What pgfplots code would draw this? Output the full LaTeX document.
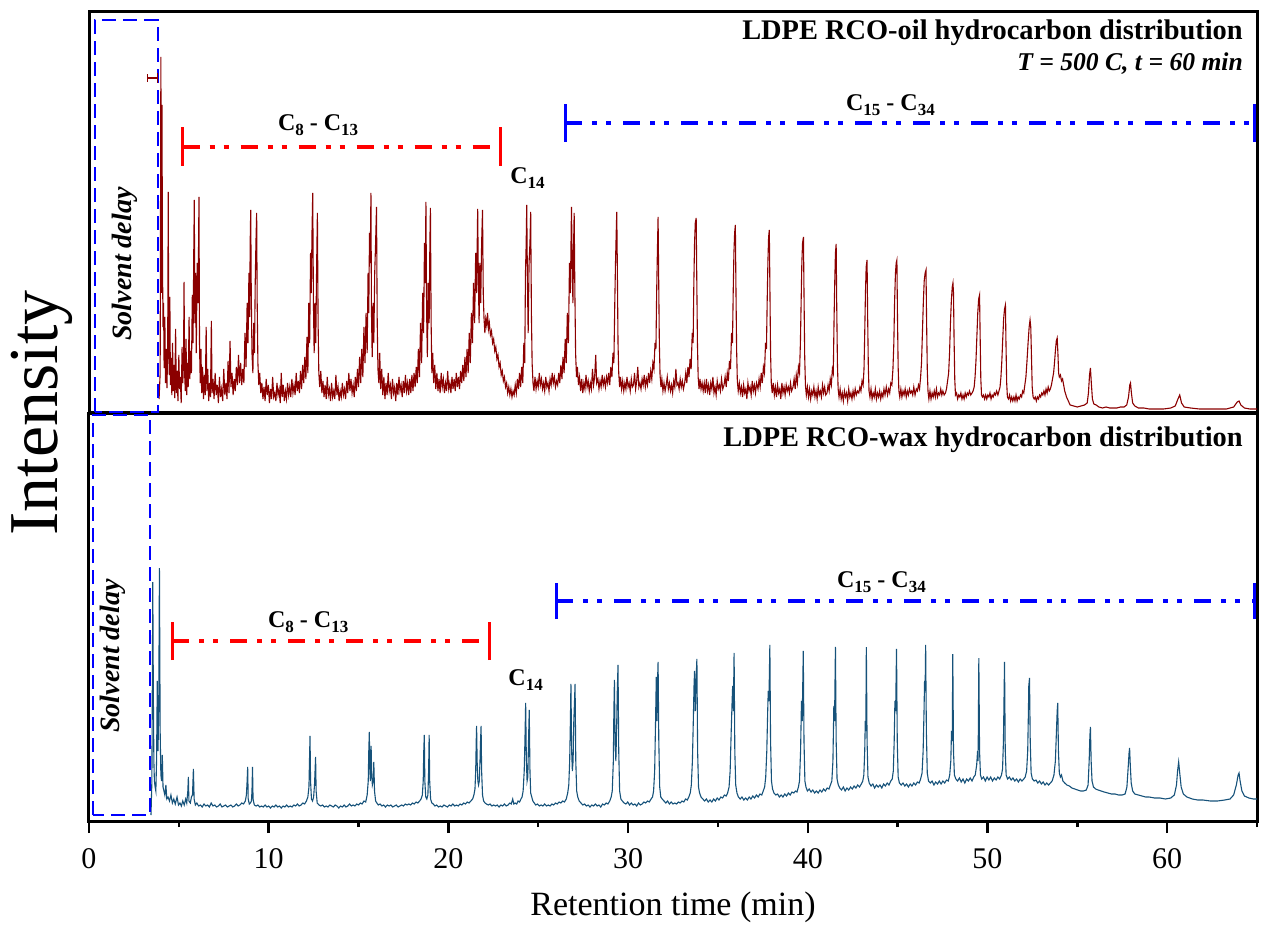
\documentclass[border=0pt]{standalone}
\usepackage{pgfplots}
\pgfplotsset{compat=1.18}
\usepackage{fontspec}
\setmainfont{Liberation Serif}
\definecolor{oilred}{RGB}{139,0,0}
\definecolor{waxblue}{RGB}{22,82,122}
\definecolor{brkred}{RGB}{255,0,0}
\definecolor{brkblue}{RGB}{0,0,255}
\newcommand{\sbs}[1]{\raisebox{-0.45ex}{\fontsize{8.5}{8.5}\selectfont #1}}

\pgfplotsset{
  chrom/.style={
    width=584pt, scale only axis,
    xmin=0, xmax=65, ymin=0,
    ytick=\empty,
    axis line style={line width=1.5pt},
    clip=false,
  },
}
\tikzset{
  crange/.style={line width=2pt, dash pattern=on 8.5pt off 5pt on 2.5pt off 4.5pt on 2.5pt off 6pt},
  ccap/.style={line width=1.5pt},
  solv/.style={brkblue, line width=0.9pt, dash pattern=on 7pt off 3.5pt},
  clab/.style={font=\bfseries\fontsize{12}{12}\selectfont},
}

\begin{document}
\begin{tikzpicture}

% ---------- lower panel: RCO-wax ----------
\begin{axis}[
    chrom,
    height=204pt, ymax=408,
    xtick={0,10,...,60},
    minor xtick={5,15,...,65},
    xtick pos=left,
    tick align=outside,
    major tick length=6pt,
    minor tick length=3pt,
    every tick/.style={black, line width=1.2pt},
    xticklabel style={font=\fontsize{15}{15}\selectfont, yshift=-4pt},
    /pgf/number format/assume math mode=true,
]
\addplot[waxblue, line width=0.55pt] coordinates {
(3.45,6) (3.50,40) (3.55,239) (3.58,130) (3.61,60) (3.64,40) (3.68,34) (3.72,30) (3.76,60) (3.80,140) (3.84,70) (3.88,110) (3.92,253) (3.96,90) (4.00,46) (4.04,40) (4.08,66) (4.12,34) (4.17,30) (4.22,26) (4.28,36) (4.33,22) (4.40,24) (4.48,20) (4.56,26) (4.64,18) (4.72,22) (4.80,17) (4.90,24) (4.98,16) (5.06,18) (5.14,15) (5.22,20) (5.30,16) (5.38,22) (5.44,18) (5.50,30) (5.53,44) (5.56,20) (5.64,18) (5.70,24) (5.76,26) (5.81,52) (5.85,22) (5.92,16) (6.00,18) (6.10,15) (6.20,16) (6.30,14) (6.40,17) (6.50,15) (6.60,16) (6.70,14) (6.80,18) (6.90,15) (7.00,16) (7.10,14) (7.20,15) (7.30,17) (7.40,14) (7.50,15) (7.60,16) (7.70,14) (7.80,15) (7.90,16) (8.00,14) (8.10,15) (8.20,17) (8.30,15) (8.40,16) (8.50,18) (8.60,17) (8.70,20) (8.76,26) (8.80,40) (8.83,54) (8.86,22) (8.92,17) (8.98,18) (9.04,20) (9.07,30) (9.10,54) (9.13,22) (9.20,16) (9.30,15) (9.40,16) (9.50,14) (9.60,15) (9.70,14) (9.80,16) (9.90,14) (10.00,15) (10.10,13) (10.20,15) (10.30,14) (10.40,16) (10.50,14) (10.60,15) (10.70,13) (10.80,15) (10.90,14) (11.00,16) (11.10,14) (11.20,15) (11.30,14) (11.40,16) (11.50,15) (11.60,17) (11.70,15) (11.80,16) (11.90,18) (12.00,17) (12.10,20) (12.18,24) (12.24,34) (12.27,60) (12.30,85) (12.33,40) (12.38,22) (12.44,20) (12.50,24) (12.55,36) (12.58,50) (12.61,64) (12.64,30) (12.70,18) (12.80,16) (12.90,15)
(13.00,16) (13.10,14) (13.20,15) (13.30,14) (13.40,16) (13.50,15) (13.60,14) (13.70,16) (13.80,15) (13.90,13) (14.00,15) (14.10,14) (14.20,16) (14.30,14) (14.40,15) (14.50,17) (14.60,15) (14.70,16) (14.80,15) (14.90,17) (15.00,16) (15.10,18) (15.20,17) (15.30,20) (15.40,19) (15.48,26) (15.54,40) (15.57,70) (15.60,89) (15.63,50) (15.66,40) (15.70,75) (15.73,48) (15.77,36) (15.82,40) (15.85,59) (15.89,30) (15.95,20) (16.02,18) (16.10,16) (16.20,17) (16.30,15) (16.40,16) (16.50,14) (16.60,16) (16.70,15) (16.80,16) (16.90,14) (17.00,15) (17.10,16) (17.20,14) (17.30,15) (17.40,16) (17.50,15) (17.60,17) (17.70,16) (17.80,17) (17.90,16) (18.00,18) (18.10,17) (18.20,19) (18.30,18) (18.40,20) (18.48,22) (18.55,26) (18.60,40) (18.63,70) (18.66,86) (18.69,40) (18.74,24) (18.80,22) (18.86,26) (18.90,50) (18.93,86) (18.96,40) (19.01,22) (19.08,18) (19.16,17) (19.25,15) (19.35,16) (19.45,14) (19.55,15) (19.65,14) (19.75,16) (19.85,15) (19.95,14) (20.05,16) (20.15,15) (20.25,17) (20.35,15) (20.45,16) (20.55,15) (20.65,17) (20.75,16) (20.85,18) (20.95,17) (21.05,19) (21.15,18) (21.25,20) (21.35,22) (21.42,26) (21.48,32) (21.52,50) (21.55,80) (21.57,95) (21.60,60) (21.64,40) (21.68,36) (21.72,40) (21.76,60) (21.79,80) (21.82,95) (21.85,50) (21.90,26) (21.96,20) (22.04,18) (22.12,17) (22.22,16) (22.32,17) (22.42,15) (22.52,16) (22.62,15) (22.72,16) (22.82,14) (22.92,16) (23.02,15) (23.12,17) (23.22,15) (23.32,16) (23.42,18) (23.50,17) (23.58,22) (23.64,17) (23.72,18) (23.80,17) (23.88,20) (23.96,19) (24.04,22) (24.10,24) (24.16,30) (24.22,50) (24.26,80) (24.30,118) (24.34,60) (24.38,40) (24.42,44) (24.46,80) (24.50,111) (24.54,50) (24.58,28) (24.64,24) (24.70,20) (24.78,18) (24.86,16) (24.96,17) (25.06,15) (25.16,16) (25.26,15) (25.36,17) (25.46,15) (25.56,16) (25.66,15) (25.76,17) (25.86,16) (25.96,18) (26.06,17) (26.16,19) (26.26,18) (26.36,20) (26.46,19) (26.56,22) (26.64,28) (26.70,36) (26.75,60) (26.79,100) (26.82,137) (26.86,70) (26.90,50) (26.94,60) (26.98,100) (27.02,120) (27.05,137) (27.09,60) (27.14,30) (27.20,24) (27.28,20) (27.38,18) (27.48,16) (27.58,17) (27.68,15) (27.78,16) (27.88,14) (27.98,16) (28.08,15) (28.18,17) (28.28,15) (28.38,16) (28.48,14) (28.58,17) (28.68,16) (28.78,18) (28.88,17) (28.98,20)
(29.06,24) (29.12,30) (29.18,60) (29.21,110) (29.24,141) (29.28,80) (29.32,60) (29.36,90) (29.40,130) (29.44,156) (29.48,70) (29.53,30) (29.60,22) (29.68,20) (29.78,18) (29.88,17) (29.98,19) (30.08,16) (30.18,18) (30.28,16) (30.38,17) (30.48,15) (30.58,18) (30.68,16) (30.78,17) (30.88,19) (30.98,18) (31.08,20) (31.18,19) (31.28,22) (31.36,24) (31.42,30) (31.48,50) (31.53,100) (31.57,144) (31.61,100) (31.64,140) (31.67,159) (31.71,80) (31.76,34) (31.82,24) (31.90,22) (32.00,20) (32.10,18) (32.20,20) (32.30,17) (32.40,19) (32.50,17) (32.60,18) (32.70,17) (32.80,19) (32.90,18) (33.00,20) (33.10,19) (33.20,22) (33.30,21) (33.38,24) (33.46,28) (33.52,36) (33.58,60) (33.63,100) (33.67,135) (33.70,150) (33.74,110) (33.78,140) (33.83,162) (33.87,70) (33.92,34) (33.98,28) (34.06,24) (34.16,22) (34.26,20) (34.36,22) (34.46,19) (34.56,21) (34.66,19) (34.76,22) (34.86,20) (34.96,23) (35.06,21) (35.16,24) (35.26,23) (35.36,26) (35.46,25) (35.54,28) (35.62,34) (35.68,50) (35.74,90) (35.79,120) (35.82,135) (35.86,110) (35.90,168) (35.94,70) (35.99,36) (36.06,28) (36.14,24) (36.24,22) (36.34,24) (36.44,21) (36.54,23) (36.64,21) (36.74,24) (36.84,22) (36.94,25) (37.04,23) (37.14,26) (37.24,24) (37.34,27) (37.44,26) (37.52,30) (37.60,34) (37.66,44) (37.72,70) (37.77,110) (37.80,130) (37.84,120) (37.89,176) (37.93,80) (37.98,40) (38.04,32) (38.12,28) (38.22,26) (38.32,27) (38.42,24) (38.52,26) (38.62,24) (38.72,27) (38.82,25) (38.92,28) (39.02,26) (39.12,29) (39.22,28) (39.32,30) (39.40,29) (39.48,34) (39.54,40) (39.60,70) (39.65,120) (39.69,100) (39.75,170) (39.79,80) (39.84,40) (39.90,34) (39.98,30) (40.08,32) (40.18,29) (40.28,31) (40.38,28) (40.48,30) (40.58,28) (40.68,31) (40.78,29) (40.88,32) (40.98,30) (41.08,33) (41.18,32) (41.26,36) (41.34,40) (41.40,60) (41.45,115) (41.49,100) (41.54,174) (41.58,80) (41.63,42) (41.70,36) (41.78,33) (41.88,31) (41.98,34) (42.08,30) (42.18,33) (42.28,31) (42.38,34) (42.48,32) (42.58,35) (42.68,33) (42.78,36) (42.88,34) (42.98,37)
(43.06,40) (43.12,46) (43.17,70) (43.20,100) (43.23,90) (43.26,174) (43.30,80) (43.35,44) (43.42,38) (43.52,35) (43.62,37) (43.72,33) (43.82,36) (43.92,34) (44.02,36) (44.12,33) (44.22,37) (44.32,35) (44.42,38) (44.52,36) (44.62,40) (44.70,42) (44.76,50) (44.81,80) (44.85,120) (44.89,110) (44.94,172) (44.98,80) (45.03,44) (45.10,38) (45.20,36) (45.30,38) (45.40,35) (45.50,37) (45.60,34) (45.70,37) (45.80,35) (45.90,38) (46.00,36) (46.10,39) (46.20,38) (46.28,42) (46.36,48) (46.42,70) (46.47,110) (46.50,140) (46.53,130) (46.56,176) (46.60,90) (46.65,48) (46.72,40) (46.82,38) (46.92,40) (47.02,36) (47.12,39) (47.22,37) (47.32,40) (47.42,37) (47.52,40) (47.62,38) (47.72,41) (47.82,40) (47.90,46) (47.96,60) (48.00,90) (48.04,80) (48.07,167) (48.11,70) (48.16,46) (48.24,42) (48.34,40) (48.44,43) (48.54,39) (48.64,42) (48.74,38) (48.84,42) (48.94,40) (49.04,43) (49.14,40) (49.24,44) (49.32,46) (49.40,56) (49.45,70) (49.48,60) (49.52,163) (49.56,70) (49.61,46) (49.68,42) (49.78,44) (49.88,40) (49.98,44) (50.08,41) (50.18,44) (50.28,40) (50.38,43) (50.48,41) (50.58,44) (50.68,42) (50.78,46) (50.84,52) (50.89,80) (50.92,120) (50.95,159) (50.99,70) (51.04,46) (51.12,42) (51.22,44) (51.32,41) (51.42,43) (51.52,40) (51.62,42) (51.72,39) (51.82,42) (51.92,40) (52.02,42) (52.10,44) (52.18,50) (52.24,70) (52.28,110) (52.30,135) (52.34,143) (52.38,80) (52.43,48) (52.50,42) (52.60,40) (52.70,41) (52.80,38) (52.90,40) (53.00,37) (53.10,39) (53.20,36) (53.30,38) (53.40,36) (53.50,38) (53.60,40) (53.70,46) (53.78,60) (53.84,90) (53.88,110) (53.91,118) (53.95,70) (54.00,48) (54.06,44) (54.12,46) (54.20,40) (54.30,38) (54.42,36) (54.56,35) (54.70,33) (54.86,32) (55.02,31) (55.18,30) (55.34,30) (55.50,31) (55.60,36) (55.66,60) (55.70,85) (55.73,94) (55.77,60) (55.82,40) (55.90,34) (56.02,32) (56.16,31) (56.32,30) (56.50,29) (56.70,28) (56.90,27) (57.10,27) (57.30,26) (57.50,26) (57.66,27) (57.76,34) (57.84,56) (57.88,68) (57.91,73) (57.95,55) (58.00,38) (58.08,30) (58.20,27) (58.40,26) (58.60,25) (58.80,24) (59.00,24) (59.30,23) (59.60,23) (59.90,22) (60.20,23) (60.40,26) (60.52,36) (60.58,50) (60.64,59) (60.70,48) (60.78,34) (60.90,27) (61.10,24) (61.40,22) (61.70,21) (62.00,21) (62.40,20) (62.80,20) (63.20,21) (63.50,22) (63.70,26) (63.85,36) (63.95,46) (64.00,48) (64.06,40) (64.16,30) (64.30,25) (64.55,23) (64.80,22) (65.00,22)
};

% solvent delay box
\draw[solv] (axis cs:0.22,6) rectangle (axis cs:3.39,406);
\node[rotate=90, font=\bfseries\itshape\fontsize{14}{14}\selectfont] at (axis cs:1.35,165) {Solvent delay};

% carbon ranges
\draw[brkred, crange] (axis cs:4.64,180) -- (axis cs:22.3,180);
\draw[brkred, ccap] (axis cs:4.64,161) -- (axis cs:4.64,199);
\draw[brkred, ccap] (axis cs:22.3,161) -- (axis cs:22.3,199);
\node[clab] at (axis cs:12.2,199) {C\sbs{8} - C\sbs{13}};
\node[clab] at (axis cs:24.3,141) {C\sbs{14}};
\draw[brkblue, crange] (axis cs:25.99,220) -- (axis cs:64.85,220);
\draw[brkblue, ccap] (axis cs:25.99,202) -- (axis cs:25.99,238);
\draw[brkblue, ccap] (axis cs:64.85,202) -- (axis cs:64.85,238);
\node[clab] at (axis cs:44.1,239) {C\sbs{15} - C\sbs{34}};

\node[anchor=east, font=\bfseries\fontsize{14.2}{14.2}\selectfont] at (axis cs:64.6,381) {LDPE RCO-wax hydrocarbon distribution};

\node[rotate=90, font=\fontsize{35}{35}\selectfont] at ([xshift=-23.5pt]rel axis cs:0,1) {Intensity};
\node[font=\fontsize{17}{17}\selectfont] at ([yshift=-43pt]rel axis cs:0.5,0) {Retention time (min)};
\end{axis}

% ---------- upper panel: RCO-oil ----------
\begin{axis}[
    chrom,
    at={(0,204pt)}, anchor=south west,
    height=200.5pt, ymax=401,
    xtick=\empty,
]
\addplot[oilred, line width=0.55pt] coordinates {
(3.90,14) (3.96,40) (4.00,356) (4.03,120) (4.06,308) (4.09,150) (4.12,86) (4.15,110) (4.18,45) (4.22,96) (4.26,30) (4.30,64) (4.34,25) (4.38,70) (4.41,221) (4.44,60) (4.47,38) (4.50,116) (4.53,28) (4.57,55) (4.61,18) (4.65,70) (4.69,22) (4.73,48) (4.77,15) (4.82,84) (4.86,20) (4.90,42) (4.95,12) (5.00,58) (5.04,24) (5.08,36) (5.13,10) (5.18,66) (5.22,30) (5.26,52) (5.29,131) (5.32,40) (5.36,22) (5.40,74) (5.44,18) (5.48,50) (5.52,26) (5.57,96) (5.61,34) (5.66,62) (5.70,40) (5.75,118) (5.79,70) (5.83,160) (5.86,213) (5.89,90) (5.93,140) (5.97,60) (6.02,150) (6.07,110) (6.12,216) (6.15,70) (6.19,30) (6.23,64) (6.27,20) (6.32,46) (6.37,14) (6.42,38) (6.47,18) (6.52,86) (6.56,22) (6.61,44) (6.66,12) (6.71,30) (6.76,16) (6.81,92) (6.85,20) (6.90,34) (6.96,14) (7.02,40) (7.08,18) (7.14,28) (7.20,10) (7.26,36) (7.32,16) (7.38,24) (7.44,12) (7.50,44) (7.56,18) (7.62,30) (7.68,14) (7.74,52) (7.79,20) (7.85,72) (7.90,26) (7.96,40) (8.02,18) (8.08,34) (8.14,22) (8.20,46) (8.26,28) (8.32,58) (8.38,30) (8.44,50) (8.50,28) (8.56,44) (8.62,30) (8.68,80) (8.74,46) (8.80,110) (8.85,70) (8.90,140) (8.94,96) (8.97,170) (9.00,203) (9.03,120) (9.07,60) (9.12,40) (9.17,90) (9.21,60) (9.25,130) (9.29,170) (9.33,200) (9.36,110) (9.40,50) (9.45,28) (9.50,40) (9.56,20) (9.62,30) (9.68,14) (9.74,26) (9.80,12) (9.86,34) (9.92,18) (9.98,28)
(10.04,10) (10.10,24) (10.16,14) (10.22,36) (10.28,16) (10.34,20) (10.40,12) (10.46,30) (10.52,18) (10.58,24) (10.64,10) (10.70,40) (10.75,16) (10.81,28) (10.87,12) (10.93,22) (10.99,14) (11.05,30) (11.11,18) (11.17,26) (11.23,16) (11.29,34) (11.35,20) (11.41,28) (11.47,18) (11.53,40) (11.59,22) (11.65,32) (11.71,20) (11.77,42) (11.83,24) (11.89,48) (11.95,30) (12.01,56) (12.07,34) (12.13,76) (12.18,40) (12.23,110) (12.28,70) (12.33,160) (12.37,120) (12.41,180) (12.45,220) (12.49,110) (12.53,60) (12.58,110) (12.62,70) (12.67,150) (12.71,200) (12.75,90) (12.79,40) (12.84,26) (12.90,42) (12.96,20) (13.02,32) (13.08,16) (13.14,28) (13.20,14) (13.26,36) (13.32,18) (13.38,24) (13.44,12) (13.50,30) (13.56,16) (13.62,22) (13.68,14) (13.74,38) (13.80,18) (13.86,26) (13.92,12) (13.98,22) (14.04,16) (14.10,30) (14.16,18) (14.22,24) (14.28,14) (14.34,32) (14.40,20) (14.46,40) (14.52,22) (14.58,34) (14.64,20) (14.70,28) (14.76,16) (14.82,36) (14.88,22) (14.94,44) (15.00,26) (15.06,56) (15.12,30) (15.18,64) (15.24,36) (15.30,86) (15.36,50) (15.42,100) (15.48,60) (15.53,140) (15.57,100) (15.61,180) (15.65,150) (15.69,220) (15.72,100) (15.76,56) (15.81,110) (15.85,70) (15.90,140) (15.95,170) (16.00,206) (16.04,90) (16.08,44) (16.13,30) (16.18,60) (16.23,24) (16.29,44) (16.35,18) (16.41,36) (16.47,14) (16.53,30) (16.59,18) (16.65,40) (16.71,22) (16.77,28) (16.83,14) (16.89,34) (16.95,20)
(17.01,26) (17.07,12) (17.13,30) (17.19,18) (17.25,36) (17.31,22) (17.37,28) (17.43,16) (17.49,32) (17.55,20) (17.61,38) (17.67,22) (17.73,30) (17.79,18) (17.85,34) (17.91,20) (17.97,38) (18.03,22) (18.09,40) (18.15,26) (18.21,46) (18.27,30) (18.33,64) (18.39,36) (18.45,90) (18.51,50) (18.57,120) (18.62,80) (18.67,170) (18.71,130) (18.75,211) (18.79,100) (18.83,56) (18.88,130) (18.93,90) (18.97,170) (19.00,205) (19.04,90) (19.08,40) (19.13,60) (19.18,30) (19.24,48) (19.30,24) (19.36,40) (19.42,22) (19.48,34) (19.54,20) (19.60,40) (19.66,26) (19.72,34) (19.78,20) (19.84,30) (19.90,22) (19.96,42) (20.02,24) (20.08,30) (20.14,20) (20.20,36) (20.26,24) (20.32,34) (20.38,22) (20.44,40) (20.50,26) (20.56,36) (20.62,24) (20.68,42) (20.74,30) (20.80,48) (20.86,32) (20.92,56) (20.98,36) (21.04,64) (21.10,40) (21.16,80) (21.22,50) (21.28,100) (21.34,70) (21.40,130) (21.46,90) (21.52,160) (21.57,120) (21.63,204) (21.67,130) (21.71,90) (21.75,150) (21.80,110) (21.85,170) (21.90,203) (21.94,120) (21.98,96) (22.03,80) (22.08,94) (22.13,88) (22.18,100) (22.23,84) (22.28,90) (22.34,78) (22.40,82) (22.46,70) (22.52,74) (22.58,62) (22.64,66) (22.70,54) (22.76,58) (22.82,46) (22.88,50) (22.94,38) (23.00,42) (23.06,32) (23.12,36) (23.18,26) (23.24,30) (23.30,20) (23.36,26) (23.42,18) (23.48,24) (23.54,16) (23.60,22) (23.66,18) (23.72,28) (23.78,20) (23.84,34) (23.90,24) (23.96,40)
(24.02,26) (24.08,46) (24.14,30) (24.20,70) (24.25,50) (24.29,140) (24.33,170) (24.36,208) (24.40,130) (24.44,80) (24.49,150) (24.54,170) (24.58,201) (24.62,100) (24.66,50) (24.71,30) (24.76,22) (24.82,36) (24.88,24) (24.94,32) (25.00,26) (25.06,40) (25.12,28) (25.18,34) (25.24,24) (25.30,30) (25.36,22) (25.42,36) (25.48,26) (25.54,30) (25.60,22) (25.66,34) (25.72,28) (25.78,40) (25.84,30) (25.90,36) (25.96,26) (26.02,32) (26.08,28) (26.14,40) (26.20,30) (26.26,48) (26.32,34) (26.38,56) (26.44,40) (26.50,74) (26.56,50) (26.62,100) (26.68,70) (26.74,150) (26.79,120) (26.85,206) (26.89,150) (26.93,110) (26.97,170) (27.00,200) (27.04,120) (27.08,60) (27.13,36) (27.18,46) (27.24,28) (27.30,36) (27.36,22) (27.42,34) (27.48,20) (27.54,30) (27.60,24) (27.66,38) (27.72,26) (27.78,32) (27.84,22) (27.90,30) (27.96,24) (28.02,44) (28.08,28) (28.14,36) (28.20,58) (28.25,30) (28.32,34) (28.38,24) (28.44,32) (28.50,26) (28.56,38) (28.62,28) (28.68,34) (28.74,26) (28.80,36) (28.86,30) (28.92,40) (28.98,28) (29.04,46) (29.10,36) (29.16,60) (29.21,50) (29.26,110) (29.30,150) (29.34,180) (29.37,201) (29.40,150) (29.44,70) (29.48,40) (29.53,26) (29.58,36)
(29.64,24) (29.70,32) (29.76,22) (29.82,30) (29.88,24) (29.94,36) (30.00,26) (30.06,30) (30.12,22) (30.18,34) (30.24,26) (30.30,28) (30.36,40) (30.42,24) (30.48,32) (30.54,46) (30.60,26) (30.66,30) (30.72,24) (30.78,34) (30.84,28) (30.90,38) (30.96,26) (31.02,34) (31.08,28) (31.14,40) (31.20,30) (31.26,42) (31.32,34) (31.38,50) (31.44,44) (31.50,70) (31.55,64) (31.59,120) (31.63,160) (31.67,196) (31.70,140) (31.74,70) (31.78,38) (31.83,26) (31.88,34) (31.94,22) (32.00,30) (32.06,22) (32.12,28) (32.18,36) (32.24,24) (32.30,30) (32.36,22) (32.42,28) (32.48,20) (32.54,32) (32.60,26) (32.66,44) (32.72,28) (32.78,30) (32.84,24) (32.90,34) (32.96,26) (33.02,32) (33.08,24) (33.15,30) (33.21,40) (33.27,30) (33.33,46) (33.39,36) (33.45,54) (33.51,44) (33.57,80) (33.62,70) (33.66,130) (33.70,170) (33.74,190) (33.79,195) (33.82,140) (33.86,70) (33.90,36) (33.95,24) (34.00,34) (34.06,24) (34.12,30) (34.18,22) (34.24,30) (34.30,20) (34.36,34) (34.42,22) (34.48,28) (34.54,18) (34.60,30) (34.66,24) (34.72,36) (34.78,20) (34.84,26) (34.90,18) (34.96,32) (35.02,24) (35.08,28) (35.14,22) (35.20,34) (35.27,24) (35.34,28) (35.40,36) (35.46,26) (35.52,40) (35.58,32) (35.64,52) (35.70,44) (35.76,80) (35.81,70) (35.85,120) (35.89,160) (35.93,180) (35.97,188) (36.00,130) (36.04,64) (36.08,32) (36.13,22) (36.19,30) (36.25,20) (36.31,26) (36.37,16) (36.43,28) (36.49,20) (36.55,24) (36.61,14) (36.67,30) (36.73,22) (36.79,26) (36.85,18) (36.91,32) (36.97,22)
(37.03,28) (37.09,20) (37.15,30) (37.23,24) (37.29,34) (37.35,26) (37.41,40) (37.47,30) (37.53,46) (37.59,40) (37.65,70) (37.70,64) (37.74,110) (37.78,150) (37.82,176) (37.86,183) (37.89,130) (37.93,60) (37.97,30) (38.02,20) (38.08,30) (38.14,18) (38.20,26) (38.26,16) (38.32,28) (38.38,20) (38.44,24) (38.50,14) (38.56,30) (38.62,20) (38.68,26) (38.74,18) (38.80,28) (38.86,22) (38.92,26) (38.98,20) (39.04,30) (39.10,22) (39.18,26) (39.24,34) (39.30,24) (39.36,38) (39.42,30) (39.48,46) (39.54,40) (39.59,70) (39.63,110) (39.67,150) (39.71,170) (39.76,176) (39.79,120) (39.83,56) (39.87,28) (39.92,18) (39.98,26) (40.04,16) (40.10,24) (40.16,14) (40.22,22) (40.28,18) (40.34,26) (40.40,16) (40.46,22) (40.52,14) (40.58,26) (40.64,18) (40.70,22) (40.76,16) (40.82,28) (40.88,20) (40.94,26) (41.00,18) (41.07,20) (41.13,28) (41.19,22) (41.25,34) (41.31,28) (41.37,44) (41.42,40) (41.46,90) (41.50,130) (41.54,160) (41.58,169) (41.61,110) (41.65,50) (41.69,24) (41.74,16) (41.80,24) (41.86,14) (41.92,20) (41.98,12) (42.04,22) (42.10,16) (42.16,20) (42.22,12) (42.28,24) (42.34,16) (42.40,20) (42.46,14) (42.52,22) (42.58,16) (42.64,24) (42.70,18) (42.77,22) (42.84,20) (42.90,26) (42.96,22) (43.02,32) (43.08,28) (43.13,44) (43.17,80) (43.21,120) (43.25,146) (43.30,153) (43.33,100) (43.37,46) (43.41,22) (43.46,16)
(43.52,24) (43.58,14) (43.64,20) (43.70,16) (43.76,24) (43.82,14) (43.88,20) (43.94,16) (44.00,22) (44.06,14) (44.12,20) (44.18,16) (44.24,24) (44.30,18) (44.37,26) (44.44,18) (44.50,24) (44.56,20) (44.62,30) (44.68,28) (44.74,44) (44.79,70) (44.83,110) (44.88,140) (44.92,150) (44.96,153) (44.99,100) (45.03,46) (45.07,22) (45.12,16) (45.18,24) (45.24,16) (45.30,22) (45.36,18) (45.42,24) (45.48,16) (45.54,22) (45.60,18) (45.66,24) (45.72,20) (45.78,22) (45.84,18) (45.90,26) (45.97,18) (46.04,24) (46.10,22) (46.16,28) (46.22,24) (46.28,36) (46.33,50) (46.38,80) (46.43,110) (46.48,132) (46.53,140) (46.58,143) (46.61,96) (46.65,44) (46.69,22) (46.74,14) (46.80,22) (46.86,14) (46.92,20) (46.98,16) (47.04,22) (47.10,16) (47.16,24) (47.22,16) (47.28,20) (47.34,18) (47.40,24) (47.46,18) (47.52,22) (47.59,18) (47.66,20) (47.72,24) (47.78,32) (47.84,40) (47.89,60) (47.94,90) (47.99,112) (48.04,126) (48.08,130) (48.11,120) (48.14,76) (48.18,34) (48.22,18) (48.28,20) (48.34,14) (48.40,18) (48.46,16) (48.52,20) (48.58,14) (48.64,18) (48.70,14) (48.76,20) (48.82,16) (48.88,20) (48.94,18) (49.00,22) (49.07,18) (49.14,20) (49.20,22) (49.26,26) (49.31,36) (49.36,52) (49.41,76) (49.46,100) (49.51,114) (49.56,118) (49.59,80) (49.63,34) (49.67,18) (49.72,16) (49.78,18) (49.84,14) (49.90,18) (49.96,14)
(50.02,18) (50.08,16) (50.14,20) (50.20,14) (50.26,18) (50.32,16) (50.38,20) (50.44,18) (50.51,22) (50.58,18) (50.64,22) (50.70,26) (50.75,36) (50.80,52) (50.85,74) (50.90,94) (50.95,104) (51.00,108) (51.03,70) (51.07,30) (51.11,16) (51.17,14) (51.23,18) (51.29,12) (51.35,16) (51.41,12) (51.47,16) (51.53,12) (51.59,18) (51.65,12) (51.71,16) (51.77,14) (51.84,18) (51.90,16) (51.96,22) (52.02,20) (52.08,28) (52.14,36) (52.20,52) (52.26,70) (52.32,86) (52.37,93) (52.41,86) (52.45,56) (52.49,26) (52.54,16) (52.60,14) (52.66,16) (52.72,12) (52.78,16) (52.84,14) (52.90,18) (52.96,16) (53.02,20) (53.08,18) (53.14,22) (53.20,18) (53.26,24) (53.32,20) (53.38,26) (53.44,22) (53.50,24) (53.56,28) (53.62,34) (53.68,40) (53.73,50) (53.78,62) (53.83,72) (53.88,75) (53.92,60) (53.96,40) (54.00,36) (54.06,38) (54.12,32) (54.18,34) (54.24,28) (54.30,22) (54.40,16) (54.50,12) (54.60,8) (54.80,7) (55.00,6) (55.20,7) (55.40,8) (55.55,10) (55.62,20) (55.68,38) (55.73,45) (55.78,30) (55.84,14) (55.92,9) (56.05,8) (56.20,6) (56.40,5) (56.60,6) (56.80,5) (57.00,5) (57.20,5) (57.40,6) (57.60,6) (57.75,8) (57.85,16) (57.92,28) (57.96,30) (58.01,20) (58.08,10) (58.20,7) (58.40,5) (58.70,5) (59.00,4) (59.40,4) (59.80,4) (60.20,5) (60.45,7) (60.60,14) (60.70,18) (60.80,10) (60.95,6) (61.30,5) (61.80,4) (62.30,4) (62.80,4) (63.30,4) (63.70,6) (63.90,11) (64.00,12) (64.10,8) (64.30,5) (64.60,4) (65.00,4)
};

% solvent delay box
\draw[solv] (axis cs:0.33,1) rectangle (axis cs:3.83,393);
\node[rotate=90, font=\bfseries\itshape\fontsize{14}{14}\selectfont] at (axis cs:1.97,149) {Solvent delay};
% small marker above the first peak
\draw[oilred, line width=0.6pt] (axis cs:3.26,331) -- (axis cs:3.26,339);
\draw[oilred, line width=0.6pt] (axis cs:3.26,335) -- (axis cs:3.80,335);
\draw[oilred, line width=0.6pt] (axis cs:3.80,330) -- (axis cs:3.80,340);

% carbon ranges
\draw[brkred, crange] (axis cs:5.21,266) -- (axis cs:22.9,266);
\draw[brkred, ccap] (axis cs:5.21,247) -- (axis cs:5.21,286);
\draw[brkred, ccap] (axis cs:22.9,247) -- (axis cs:22.9,286);
\node[clab] at (axis cs:12.75,288) {C\sbs{8} - C\sbs{13}};
\node[clab] at (axis cs:24.4,235) {C\sbs{14}};
\draw[brkblue, crange] (axis cs:26.5,290) -- (axis cs:64.85,290);
\draw[brkblue, ccap] (axis cs:26.5,271) -- (axis cs:26.5,309);
\draw[brkblue, ccap] (axis cs:64.85,271) -- (axis cs:64.85,309);
\node[clab] at (axis cs:44.6,308) {C\sbs{15} - C\sbs{34}};

\node[anchor=east, font=\bfseries\fontsize{14.2}{14.2}\selectfont] at (axis cs:64.6,380) {LDPE RCO-oil hydrocarbon distribution};
\node[anchor=east, font=\bfseries\itshape\fontsize{12.8}{12.8}\selectfont] at (axis cs:64.6,349) {T = 500 C, t = 60 min};
\end{axis}

\pgfresetboundingbox
\path[use as bounding box] (-44.5pt,-58.5pt) rectangle (589.5pt,410.5pt);
\end{tikzpicture}
\end{document}
